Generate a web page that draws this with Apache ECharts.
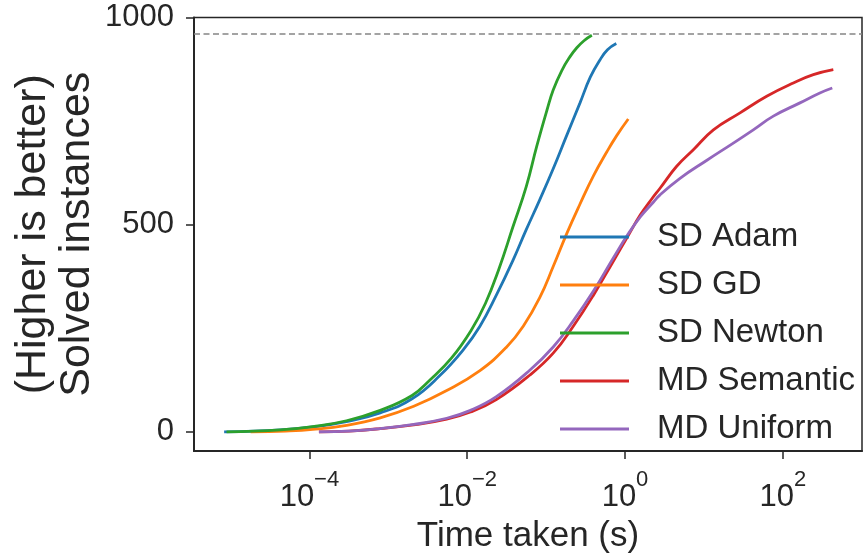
<!DOCTYPE html>
<html>
<head>
<meta charset="utf-8">
<script src="https://cdn.jsdelivr.net/npm/echarts@6/dist/echarts.min.js"></script>
<style>
  html, body { margin: 0; padding: 0; background: #fff; }
  #main { width: 863px; height: 557px; }
</style>
</head>
<body>
<div id="main"></div>
<script>
// 各方法求解实例数随时间变化
const seriesNames = ['SD Adam', 'SD GD', 'SD Newton', 'MD Semantic', 'MD Uniform']
const seriesColors = ['#1f77b4', '#ff7f0e', '#2ca02c', '#d62728', '#9467bd']

const adamTime = [8.3e-6, 4.3e-5, 1.1e-4, 2.95e-4, 7.9e-4, 2.0e-3, 4.5e-3, 8.9e-3, 0.0145, 0.0234, 0.038, 0.056, 0.083, 0.123, 0.182, 0.269, 0.363, 0.479, 0.6, 0.776]
const adamSolved = [0, 5, 12, 25, 46, 80, 136, 198, 255, 330, 414, 488, 560, 635, 715, 794, 856, 897, 922, 937]

const gdTime = [1.8e-5, 5.0e-5, 1.1e-4, 2.95e-4, 7.9e-4, 2.1e-3, 5.5e-3, 0.0145, 0.0316, 0.0513, 0.083, 0.123, 0.182, 0.269, 0.398, 0.589, 0.785, 1.1]
const gdSolved = [0, 2, 6, 16, 34, 62, 100, 148, 205, 255, 324, 399, 478, 550, 618, 676, 715, 755]

const newtonTime = [8.9e-6, 4.3e-5, 1.1e-4, 2.95e-4, 7.9e-4, 2.0e-3, 3.4e-3, 6.3e-3, 0.0112, 0.017, 0.0251, 0.038, 0.056, 0.076, 0.102, 0.123, 0.158, 0.2, 0.245, 0.302, 0.38]
const newtonSolved = [0, 5, 13, 27, 52, 88, 126, 178, 245, 310, 392, 495, 592, 689, 775, 825, 872, 905, 927, 944, 957]

const semanticTime = [1.32e-4, 3.16e-4, 7.9e-4, 2.1e-3, 5.5e-3, 0.011, 0.0234, 0.063, 0.123, 0.221, 0.398, 0.711, 1.1, 1.58, 2.18, 2.78, 4.52, 7.35, 13.2, 28.7, 62.5, 136, 244, 437]
const semanticSolved = [0, 2, 8, 17, 31, 48, 78, 138, 190, 255, 330, 412, 474, 525, 562, 588, 641, 681, 729, 770, 810, 842, 862, 874]

const uniformTime = [1.32e-4, 3.16e-4, 7.9e-4, 2.1e-3, 5.5e-3, 0.011, 0.0234, 0.063, 0.123, 0.221, 0.398, 0.711, 1.1, 1.58, 2.18, 2.78, 4.98, 10.8, 23.6, 42.3, 75.9, 165, 295, 424]
const uniformSolved = [0, 2, 8, 18, 33, 52, 85, 150, 205, 268, 340, 420, 478, 520, 550, 572, 612, 655, 697, 729, 762, 794, 818, 830]

const xTicks = [1e-4, 1e-2, 1, 100]
const yTicks = [0, 500, 1000]
const totalInstances = 960

const allTimes = [adamTime, gdTime, newtonTime, semanticTime, uniformTime]
const allSolved = [adamSolved, gdSolved, newtonSolved, semanticSolved, uniformSolved]

const font = 'Liberation Sans, Arial, sans-serif'
const ink = '#262626'

let myChart = echarts.init(document.getElementById('main'))

let series = seriesNames.map((name, k) => ({
  name,
  type: 'line',
  data: allTimes[k].map((t, i) => [t, allSolved[k][i]]),
  showSymbol: false,
  smooth: 0.45,
  lineStyle: { width: 2.8, color: seriesColors[k] },
  itemStyle: { color: seriesColors[k] },
}))

// 虚线：实例总数
series[0].markLine = {
  silent: true,
  symbol: 'none',
  label: { show: false },
  lineStyle: { color: '#858585', type: [6, 3.5], width: 1.6 },
  data: [{ yAxis: totalInstances }],
}

let option = {
  animation: false,
  backgroundColor: '#fff',
  textStyle: { fontFamily: font },
  grid: {
    left: 194,
    right: 1,
    top: 17.5,
    bottom: 106,
    outerBoundsMode: 'none',
    containLabel: false,
    show: true,
    borderColor: ink,
    borderWidth: 1.5,
  },
  legend: {
    orient: 'vertical',
    left: 560,
    top: 219,
    padding: 0,
    itemGap: 12,
    itemWidth: 69,
    itemHeight: 3,
    icon: 'rect',
    data: seriesNames,
    textStyle: {
      fontSize: 33,
      color: ink,
      lineHeight: 36,
      fontFamily: font,
      padding: [0, 0, 0, 23],
    },
  },
  xAxis: {
    type: 'log',
    logBase: 10,
    min: Math.pow(10, -5.463),
    max: Math.pow(10, 3.004),
    name: 'Time taken (s)',
    nameLocation: 'middle',
    nameGap: 68,
    nameMoveOverlap: false,
    nameTextStyle: { fontSize: 35, color: ink, fontFamily: font },
    axisLine: { onZero: false, lineStyle: { color: ink, width: 2 } },
    axisTick: { customValues: xTicks, length: 8, lineStyle: { color: ink, width: 1.5 } },
    axisLabel: {
      customValues: xTicks,
      margin: 18,
      formatter: (v) => {
        let e = Math.round(Math.log10(v))
        return '{b|10}{s|' + String(e).replace('-', '\u2212') + '}'
      },
      rich: {
        b: { fontSize: 31, color: ink, fontFamily: font, verticalAlign: 'bottom', lineHeight: 44 },
        s: { fontSize: 22, color: ink, fontFamily: font, verticalAlign: 'top', lineHeight: 22 },
      },
    },
    splitLine: { show: false },
  },
  yAxis: {
    type: 'value',
    min: -46,
    max: 1000,
    name: '(Higher is better)\nSolved instances',
    nameLocation: 'middle',
    nameGap: 95,
    nameMoveOverlap: false,
    nameTextStyle: { fontSize: 43, color: ink, lineHeight: 44, fontFamily: font },
    axisLine: { show: true, lineStyle: { color: ink, width: 2 } },
    axisTick: { show: true, customValues: yTicks, length: 8, lineStyle: { color: ink, width: 1.5 } },
    axisLabel: {
      customValues: yTicks,
      fontSize: 31,
      color: ink,
      margin: 20,
      fontFamily: font,
      formatter: (v) => String(v),
    },
    splitLine: { show: false },
  },
  series,
}

myChart.setOption(option)
</script>
</body>
</html>
